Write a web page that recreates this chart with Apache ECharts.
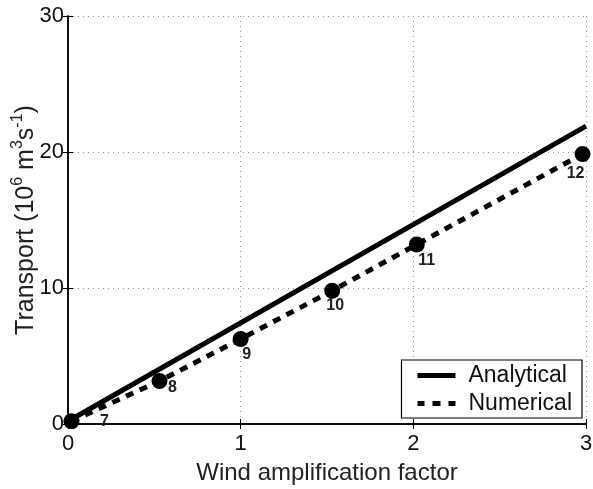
<!DOCTYPE html>
<html>
<head>
<meta charset="utf-8">
<script src="https://cdn.jsdelivr.net/npm/echarts@6/dist/echarts.min.js"></script>
<style>html,body{margin:0;padding:0;background:#fff}#c{width:593px;height:489px}</style>
</head>
<body>
<div id="c"></div>
<script>
// ---- data ----
const analyticalX = [0, 3];
const analyticalY = [0.2, 21.9];
const numericalX = [0.02, 0.53, 1.0, 1.53, 2.02, 2.98];
const numericalY = [0.2, 3.16, 6.25, 9.8, 13.2, 19.85];
const pointLabels = ['7', '8', '9', '10', '11', '12'];
const xTicks = [0, 1, 2, 3];
const yTicks = [0, 10, 20, 30];
const xTitle = 'Wind amplification factor';
const yTitle = '{a|Transport (10}{s|6}{a| m}{s|3}{a|s}{s|-1}{a|)}';

// ---- layout (not data) ----
const labelOffsets = [[33, 0], [13, 7], [6, 16], [3, 15], [10, 16], [-7, 20]];
const FONT = '"Liberation Sans", Arial, Helvetica, sans-serif';

const chart = echarts.init(document.getElementById('c'), null, {renderer: 'canvas'});
const zip = (xs, ys) => xs.map((x, i) => [x, ys[i]]);

const gridLine = {show: true, lineStyle: {color: '#999', width: 1, type: [1, 4]}};
const axisLineBlack = {show: true, lineStyle: {color: '#000', width: 1.5}};

chart.setOption({
  animation: false,
  backgroundColor: '#fff',
  grid: {left: 68, right: 7, top: 16, bottom: 65, containLabel: false, outerBoundsMode: 'none'},
  graphic: [{
    type: 'text', x: 24, y: 220, rotation: Math.PI / 2, silent: true,
    style: {
      text: yTitle, align: 'center', verticalAlign: 'middle', fill: '#222',
      font: '25px ' + FONT,
      rich: {
        a: {fontFamily: FONT, fontSize: 25, fill: '#222', lineHeight: 29, verticalAlign: 'bottom'},
        s: {fontFamily: FONT, fontSize: 16, fill: '#222', lineHeight: 29, verticalAlign: 'top'}
      }
    }
  }],
  xAxis: [{
    type: 'value', min: xTicks[0], max: xTicks[xTicks.length - 1], interval: 1,
    name: xTitle, nameLocation: 'middle', nameGap: 37,
    nameTextStyle: {fontFamily: FONT, fontSize: 24, color: '#222'},
    axisLine: axisLineBlack,
    axisTick: {show: true, inside: true, length: 5, lineStyle: {color: '#000'}},
    axisLabel: {fontFamily: FONT, fontSize: 22, color: '#111', margin: 9},
    splitLine: gridLine
  }, {
    type: 'value', position: 'top', min: 0, max: 3, interval: 1,
    axisLine: axisLineBlack,
    axisTick: {show: true, inside: true, length: 5, lineStyle: {color: '#000'}},
    axisLabel: {show: false}, splitLine: {show: false}
  }],
  yAxis: [{
    type: 'value', min: yTicks[0], max: yTicks[yTicks.length - 1], interval: 10,
    axisLine: axisLineBlack,
    axisTick: {show: true, inside: true, length: 5, lineStyle: {color: '#000'}},
    axisLabel: {fontFamily: FONT, fontSize: 22, color: '#111', margin: 4},
    splitLine: gridLine
  }, {
    type: 'value', position: 'right', min: 0, max: 30, interval: 10,
    axisLine: axisLineBlack,
    axisTick: {show: true, inside: true, length: 5, lineStyle: {color: '#000'}},
    axisLabel: {show: false}, splitLine: {show: false}
  }],
  legend: {
    orient: 'vertical', right: 11, bottom: 71,
    backgroundColor: '#fff', borderColor: '#000', borderWidth: 1.2,
    padding: [4, 10, 3, 16], itemWidth: 38, itemHeight: 5, itemGap: 5,
    textStyle: {fontFamily: FONT, fontSize: 23, color: '#111', padding: [0, 0, 0, 8]},
    data: [
      {name: 'Analytical', icon: 'rect', itemStyle: {color: '#000'}},
      {name: 'Numerical', icon: 'path://M0,0h7v5h-7z M15,0h8v5h-8z M31,0h7v5h-7z', itemStyle: {color: '#000'}}
    ]
  },
  series: [{
    name: 'Analytical', type: 'line', xAxisIndex: 0, yAxisIndex: 0,
    data: zip(analyticalX, analyticalY), showSymbol: false, symbol: 'none',
    lineStyle: {color: '#000', width: 5, type: 'solid'}, itemStyle: {color: '#000'}, z: 3
  }, {
    name: 'Numerical', type: 'line', xAxisIndex: 0, yAxisIndex: 0,
    data: zip(numericalX, numericalY), showSymbol: false, symbol: 'none',
    lineStyle: {color: '#000', width: 5, type: [8, 7]}, itemStyle: {color: '#000'}, z: 3
  }, {
    name: 'points', type: 'scatter', xAxisIndex: 0, yAxisIndex: 0,
    symbol: 'circle', symbolSize: 16, itemStyle: {color: '#000', opacity: 1}, z: 4,
    data: numericalX.map((x, i) => ({
      value: [x, numericalY[i]],
      label: {
        show: true, formatter: pointLabels[i], position: 'inside', offset: labelOffsets[i],
        fontFamily: FONT, fontSize: 16, fontWeight: 'bold', color: '#222'
      }
    }))
  }]
});
</script>
</body>
</html>
